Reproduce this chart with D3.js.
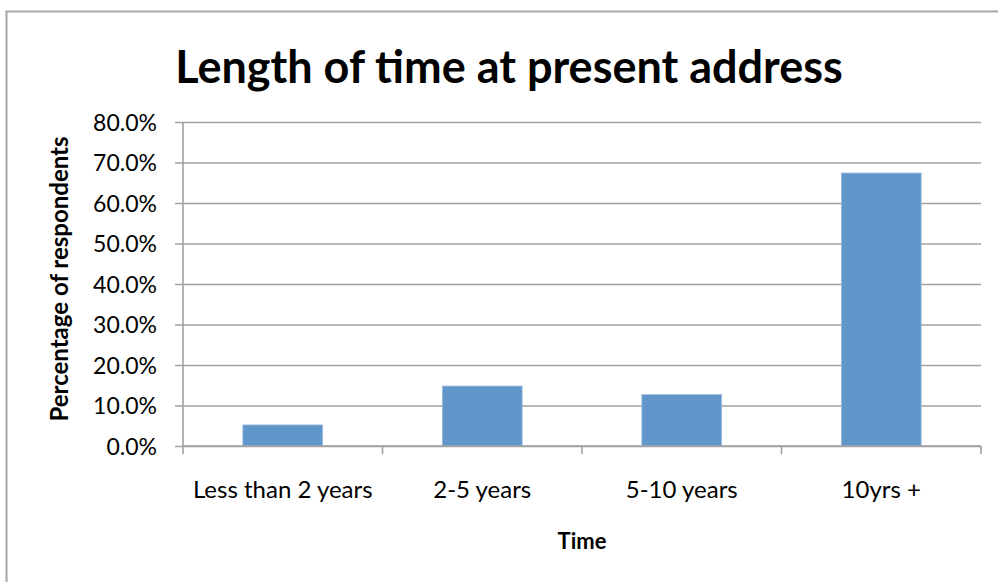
<!DOCTYPE html>
<html>
<head>
<meta charset="utf-8">
<script src="https://cdn.jsdelivr.net/npm/d3@7/dist/d3.min.js"></script>
<style>
  html, body { margin: 0; padding: 0; background: #fff; }
  svg { display: block; }
  text { font-family: Lato, "Open Sans", "Liberation Sans", sans-serif; fill: #000; }
</style>
</head>
<body>
<svg id="chart" width="998" height="582"></svg>
<script>
// Length of time respondents have lived at their present address
const categories = ["Less than 2 years", "2-5 years", "5-10 years", "10yrs +"];
const shares = [5.2, 14.8, 12.7, 67.4];
const yTicks = [0, 10, 20, 30, 40, 50, 60, 70, 80];

const svg = d3.select("#chart");
const plot = { left: 183, right: 981, top: 122, bottom: 446 };
const gridColor = "#a0a0a0";

// outer chart frame (extends past the right/bottom edge)
svg.append("rect")
  .attr("x", 6.5).attr("y", 11.5)
  .attr("width", 1100).attr("height", 700)
  .attr("fill", "#fff").attr("stroke", "#a6a6a6").attr("stroke-width", 2);

const x = d3.scaleBand()
  .domain(categories)
  .range([plot.left, plot.right])
  .paddingInner(0.6)
  .paddingOuter(0.3);

const y = d3.scaleLinear().domain([0, 80]).range([plot.bottom, plot.top]);

// value axis: labels plus gridlines that start with a short outer tick
const yAxis = d3.axisLeft(y)
  .tickValues(yTicks)
  .tickSize(8)
  .tickPadding(18)
  .tickFormat(d => d.toFixed(1) + "%");

const gy = svg.append("g")
  .attr("transform", `translate(${plot.left},0)`)
  .call(yAxis);
gy.select(".domain").attr("stroke", gridColor).attr("stroke-width", 1.6)
  .attr("d", `M0,${plot.top}V${plot.bottom}`);
gy.selectAll(".tick line")
  .attr("x1", -8).attr("x2", plot.right - plot.left)
  .attr("stroke", gridColor).attr("stroke-width", 1.6);
gy.selectAll(".tick text")
  .attr("x", -26)
  .attr("dy", "0.35em")
  .style("font-size", "23px")
  .style("font-family", "Lato, 'Open Sans', sans-serif");

// bars
svg.append("g").selectAll("rect")
  .data(categories)
  .join("rect")
  .attr("x", d => x(d))
  .attr("width", x.bandwidth())
  .attr("y", (d, i) => y(shares[i]))
  .attr("height", (d, i) => y(0) - y(shares[i]))
  .attr("fill", "#6096c9")
  .attr("stroke", "#9dbde0")
  .attr("stroke-width", 0.8);

// category axis: baseline and boundary ticks
const step = x.step();
const bounds = d3.range(categories.length + 1).map(i => plot.left + i * step);
svg.append("line")
  .attr("x1", plot.left).attr("x2", plot.right)
  .attr("y1", plot.bottom).attr("y2", plot.bottom)
  .attr("stroke", gridColor).attr("stroke-width", 1.6);
svg.append("g").selectAll("line")
  .data(bounds)
  .join("line")
  .attr("x1", d => d).attr("x2", d => d)
  .attr("y1", plot.bottom).attr("y2", plot.bottom + 8)
  .attr("stroke", gridColor).attr("stroke-width", 1.6);

svg.append("g").selectAll("text")
  .data(categories)
  .join("text")
  .attr("x", d => x(d) + x.bandwidth() / 2)
  .attr("y", 498)
  .attr("text-anchor", "middle")
  .style("font-size", "24px")
  .text(d => d);

// title
svg.append("text")
  .attr("x", 509).attr("y", 83)
  .attr("text-anchor", "middle")
  .style("font-size", "45px")
  .style("font-weight", "bold")
  .text("Length of time at present address");

// axis titles
svg.append("text")
  .attr("x", 582).attr("y", 549)
  .attr("text-anchor", "middle")
  .style("font-size", "22px")
  .style("font-weight", "bold")
  .text("Time");

svg.append("text")
  .attr("transform", "translate(68,279) rotate(-90)")
  .attr("text-anchor", "middle")
  .style("font-size", "24px")
  .style("font-weight", "bold")
  .text("Percentage of respondents");
</script>
</body>
</html>
